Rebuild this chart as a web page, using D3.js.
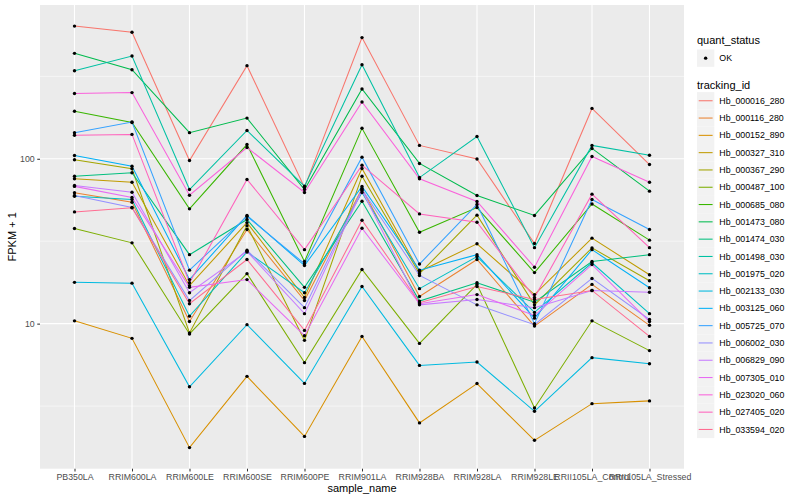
<!DOCTYPE html>
<html>
<head>
<meta charset="utf-8">
<script src="https://cdn.jsdelivr.net/npm/d3@7"></script>
<style>
  html, body { margin: 0; padding: 0; background: #fff; }
  svg { display: block; font-family: "Liberation Sans", Arial, Helvetica, sans-serif; }
</style>
</head>
<body>
<svg id="chart" width="800" height="500"></svg>
<script>
// ---- data ----
const samples = ["PB350LA","RRIM600LA","RRIM600LE","RRIM600SE","RRIM600PE","RRIM901LA","RRIM928BA","RRIM928LA","RRIM928LE","RRII105LA_Control","RRII105LA_Stressed"];
const trackingIds = ["Hb_000016_280","Hb_000116_280","Hb_000152_890","Hb_000327_310","Hb_000367_290","Hb_000487_100","Hb_000685_080","Hb_001473_080","Hb_001474_030","Hb_001498_030","Hb_001975_020","Hb_002133_030","Hb_003125_060","Hb_005725_070","Hb_006002_030","Hb_006829_090","Hb_007305_010","Hb_023020_060","Hb_027405_020","Hb_033594_020"];
const quantStatus = ["OK"];

const fpkm_Hb_000016_280 = [638, 585, 97.6, 367, 67.0, 543, 120.5, 99.7, 30.6, 202, 92.3];
const fpkm_Hb_000116_280 = [62.2, 54.5, 10.3, 37.2, 13.8, 66.0, 14.6, 24.5, 9.66, 17.3, 9.77];
const fpkm_Hb_000152_890 = [10.4, 8.14, 1.77, 4.79, 2.07, 8.37, 2.50, 4.33, 1.96, 3.27, 3.40];
const fpkm_Hb_000327_310 = [75.6, 72.1, 17.0, 41.0, 14.4, 87.3, 20.7, 30.5, 15.0, 33.0, 19.8];
const fpkm_Hb_000367_290 = [98.6, 86.9, 8.78, 39.3, 7.92, 78.4, 20.1, 45.5, 13.0, 28.8, 18.2];
const fpkm_Hb_000487_100 = [37.8, 30.9, 8.66, 20.1, 5.80, 21.3, 7.59, 17.3, 3.08, 10.4, 6.86];
const fpkm_Hb_000685_080 = [194, 166, 49.7, 122, 23.8, 153, 35.8, 50.6, 20.4, 53.2, 32.1];
const fpkm_Hb_001473_080 = [436, 347, 144, 176.5, 65.1, 265, 93.7, 59.9, 45.3, 115.5, 63.6];
const fpkm_Hb_001474_030 = [78.4, 82.2, 26.2, 42.8, 16.6, 55.3, 13.7, 17.7, 13.5, 23.8, 26.2];
const fpkm_Hb_001498_030 = [342, 420, 65.1, 148.5, 68.2, 372, 76.9, 136.4, 28.9, 120.5, 105];
const fpkm_Hb_001975_020 = [59.3, 56.6, 11.1, 27.2, 15.4, 62.4, 16.3, 25.5, 11.7, 23.4, 11.5];
const fpkm_Hb_002133_030 = [17.8, 17.6, 4.14, 9.86, 4.34, 16.8, 5.58, 5.85, 2.94, 6.22, 5.71];
const fpkm_Hb_003125_060 = [104.7, 90.1, 18.5, 45.3, 22.5, 67.9, 21.1, 26.2, 10.8, 28.1, 16.5];
const fpkm_Hb_005725_070 = [144, 167, 21.1, 44.7, 23.1, 102.3, 23.0, 52.8, 10.0, 56.6, 37.2];
const fpkm_Hb_006002_030 = [59.9, 50.6, 13.8, 27.9, 12.5, 65.1, 19.6, 13.0, 9.86, 18.8, 10.6];
const fpkm_Hb_006829_090 = [68.8, 62.7, 15.4, 27.4, 11.5, 64.2, 13.0, 14.0, 12.5, 15.9, 15.5];
const fpkm_Hb_007305_010 = [68.0, 58.2, 16.6, 18.5, 8.45, 37.9, 13.2, 15.0, 11.2, 22.8, 10.3];
const fpkm_Hb_023020_060 = [249, 252, 60.1, 117, 62.4, 221, 75.6, 55.1, 22.0, 103.3, 72.1];
const fpkm_Hb_027405_020 = [139, 140.5, 17.7, 74.9, 28.1, 91.4, 46.3, 41.2, 14.4, 61.0, 28.9];
const fpkm_Hb_033594_020 = [47.6, 50.4, 13.2, 24.5, 9.1, 42.4, 13.4, 16.8, 14.0, 15.9, 8.37];

const seriesValues = [fpkm_Hb_000016_280, fpkm_Hb_000116_280, fpkm_Hb_000152_890, fpkm_Hb_000327_310, fpkm_Hb_000367_290, fpkm_Hb_000487_100, fpkm_Hb_000685_080, fpkm_Hb_001473_080, fpkm_Hb_001474_030, fpkm_Hb_001498_030, fpkm_Hb_001975_020, fpkm_Hb_002133_030, fpkm_Hb_003125_060, fpkm_Hb_005725_070, fpkm_Hb_006002_030, fpkm_Hb_006829_090, fpkm_Hb_007305_010, fpkm_Hb_023020_060, fpkm_Hb_027405_020, fpkm_Hb_033594_020];

const yTicks = [10, 100];
const yMinor = [Math.pow(10, 0.5), Math.pow(10, 1.5), Math.pow(10, 2.5)];

const palette = ["#F8766D","#EA8331","#D89000","#C09B00","#A3A500","#7CAE00","#39B600","#00BB4E","#00BF7D","#00C1A3","#00BFC4","#00BAE0","#00B0F6","#35A2FF","#9590FF","#C77CFF","#E76BF3","#FA62DB","#FF62BC","#FF6C91"];

// ---- layout ----
const svg = d3.select("#chart");
const panel = { left: 40, right: 684, top: 5, bottom: 468.7 };

svg.append("rect").attr("width", 800).attr("height", 500).attr("fill", "#fff");

const x = d3.scalePoint().domain(samples).range([panel.left, panel.right]).padding(0.6);

const allVals = seriesValues.flat();
const lmin = Math.log10(d3.min(allVals)), lmax = Math.log10(d3.max(allVals));
const ex = (lmax - lmin) * 0.05;
const y = d3.scaleLog().domain([Math.pow(10, lmin - ex), Math.pow(10, lmax + ex)]).range([panel.bottom, panel.top]);

const color = d3.scaleOrdinal().domain(trackingIds).range(palette);

// panel background
svg.append("rect")
  .attr("x", panel.left).attr("y", panel.top)
  .attr("width", panel.right - panel.left).attr("height", panel.bottom - panel.top)
  .attr("fill", "#EBEBEB");

const grid = svg.append("g");
grid.selectAll(".minor").data(yMinor).join("line")
  .attr("x1", panel.left).attr("x2", panel.right)
  .attr("y1", d => y(d)).attr("y2", d => y(d))
  .attr("stroke", "#fff").attr("stroke-width", 0.55);
grid.selectAll(".majY").data(yTicks).join("line")
  .attr("x1", panel.left).attr("x2", panel.right)
  .attr("y1", d => y(d)).attr("y2", d => y(d))
  .attr("stroke", "#fff").attr("stroke-width", 1.1);
grid.selectAll(".majX").data(samples).join("line")
  .attr("x1", d => x(d)).attr("x2", d => x(d))
  .attr("y1", panel.top).attr("y2", panel.bottom)
  .attr("stroke", "#fff").attr("stroke-width", 1.1);

// lines
const table = trackingIds.map((id, i) => ({ id, values: samples.map((s, j) => ({ sample: s, v: seriesValues[i][j] })) }));
const line = d3.line().x(d => x(d.sample)).y(d => y(d.v));

svg.append("g").selectAll("path").data(table).join("path")
  .attr("d", d => line(d.values))
  .attr("fill", "none")
  .attr("stroke", d => color(d.id))
  .attr("stroke-width", 1.05);

// points
const pts = table.flatMap(d => d.values);
svg.append("g").selectAll("circle").data(pts).join("circle")
  .attr("cx", d => x(d.sample)).attr("cy", d => y(d.v))
  .attr("r", 1.7).attr("fill", "#000");

// axes
const xAxis = svg.append("g").attr("transform", `translate(0,${panel.bottom})`)
  .call(d3.axisBottom(x).tickSize(2.75).tickPadding(2.5));
const yAxis = svg.append("g").attr("transform", `translate(${panel.left},0)`)
  .call(d3.axisLeft(y).tickValues(yTicks).tickFormat(d3.format("d")).tickSize(2.75).tickPadding(2.5));
[xAxis, yAxis].forEach(a => {
  a.select(".domain").remove();
  a.selectAll(".tick line").attr("stroke", "#333333").attr("stroke-width", 1.05);
  a.selectAll(".tick text").attr("fill", "#4D4D4D").style("font-size", "8.8px")
    .style("font-family", '"Liberation Sans", Arial, sans-serif');
});

// axis titles
svg.append("text").attr("x", (panel.left + panel.right) / 2).attr("y", 492)
  .attr("text-anchor", "middle").style("font-size", "11px").attr("fill", "#000").text("sample_name");
svg.append("text").attr("transform", `translate(16,${(panel.top + panel.bottom) / 2}) rotate(-90)`)
  .attr("text-anchor", "middle").style("font-size", "11px").attr("fill", "#000").text("FPKM + 1");

// legends
const lg = svg.append("g");
const keyX = 697, keyW = 17.3;
lg.append("text").attr("x", keyX).attr("y", 44).style("font-size", "11px").text("quant_status");
lg.selectAll(".qk").data(quantStatus).join("rect")
  .attr("x", keyX).attr("y", 49.5).attr("width", keyW).attr("height", keyW).attr("fill", "#F2F2F2");
lg.selectAll(".qp").data(quantStatus).join("circle")
  .attr("cx", keyX + keyW / 2).attr("cy", 49.5 + keyW / 2).attr("r", 1.7).attr("fill", "#000");
lg.selectAll(".ql").data(quantStatus).join("text")
  .attr("x", keyX + keyW + 5).attr("y", 49.5 + keyW / 2 + 3.1).style("font-size", "8.8px").text(d => d);

lg.append("text").attr("x", keyX).attr("y", 89).style("font-size", "11px").text("tracking_id");
const k0 = 92.1;
const keys = lg.selectAll(".tk").data(trackingIds).join("g")
  .attr("transform", (d, i) => `translate(${keyX},${k0 + i * keyW})`);
keys.append("rect").attr("width", keyW).attr("height", keyW).attr("fill", "#F2F2F2");
keys.append("line").attr("x1", 1.7).attr("x2", keyW - 1.7).attr("y1", keyW / 2).attr("y2", keyW / 2)
  .attr("stroke", d => color(d)).attr("stroke-width", 1.05);
keys.append("text").attr("x", keyW + 5).attr("y", keyW / 2 + 3.1).style("font-size", "8.8px").text(d => d);
</script>
</body>
</html>
